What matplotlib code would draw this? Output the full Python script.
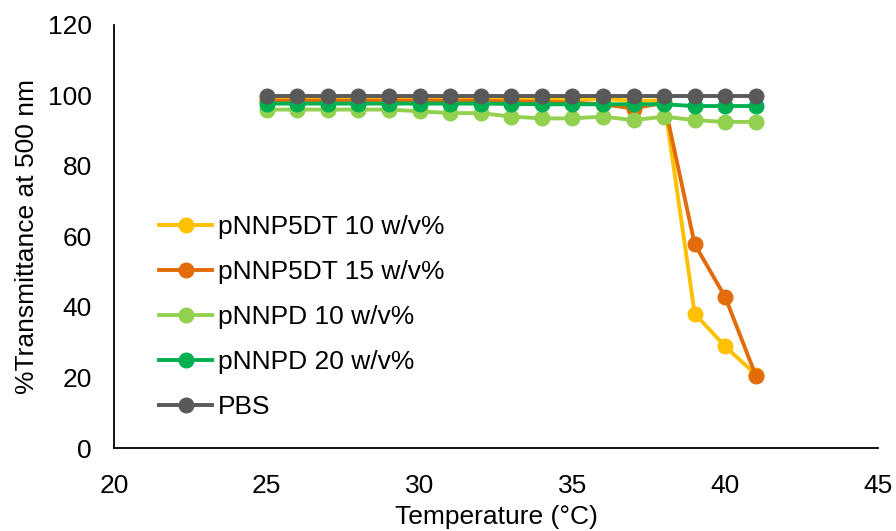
import matplotlib
matplotlib.use("Agg")
import matplotlib.pyplot as plt

plt.rcParams["font.family"] = ["Liberation Sans", "DejaVu Sans"]

# temperatures (°C)
temp = [25, 26, 27, 28, 29, 30, 31, 32, 33, 34, 35, 36, 37, 38, 39, 40, 41]

# %transmittance at 500 nm
pnnp5dt_10 = [99, 99, 99, 99, 99, 99, 99, 99, 99, 99, 99, 99, 98.5, 98.6, 38.1, 28.8, 20.8]
pnnp5dt_15 = [98.5, 98.5, 98.5, 98.5, 98.5, 98.5, 98.5, 98.5, 98.3, 98.2, 98, 97.5, 96.3, 98, 57.8, 42.8, 20.5]
pnnpd_10 = [96, 96, 96, 96, 96, 95.5, 95, 95, 94, 93.5, 93.5, 94, 93, 94, 93, 92.5, 92.5]
pnnpd_20 = [97.7, 97.7, 97.7, 97.7, 97.7, 97.7, 97.7, 97.7, 97.6, 97.5, 97.5, 97.5, 97.5, 97.5, 97, 97, 97]
pbs = [99.8, 99.8, 99.8, 99.8, 99.8, 99.8, 99.8, 99.8, 99.8, 99.8, 99.8, 99.8, 99.8, 99.8, 99.8, 99.8, 99.8]

labels = ["pNNP5DT 10 w/v%", "pNNP5DT 15 w/v%", "pNNPD 10 w/v%", "pNNPD 20 w/v%", "PBS"]
colors = ["#FFC000", "#E36C0A", "#92D050", "#00B050", "#595959"]
series = [pnnp5dt_10, pnnp5dt_15, pnnpd_10, pnnpd_20, pbs]

fig = plt.figure(figsize=(8.96, 5.31), dpi=100)
ax = fig.add_axes([0.1272, 0.1563, 0.8528, 0.7967])

for vals, lab, col in zip(series, labels, colors):
    ax.plot(temp, vals, color=col, lw=2.8, marker="o", markersize=10.5, label=lab)

ax.set_xlim(20, 45)
ax.set_ylim(0, 120)
ax.set_xticks(range(20, 46, 5))
ax.set_yticks(range(0, 121, 20))
ax.tick_params(length=0, labelsize=19, colors="black")
ax.tick_params(axis="x", pad=19)
ax.tick_params(axis="y", pad=16)
for s in ["top", "right"]:
    ax.spines[s].set_visible(False)
for s in ["left", "bottom"]:
    ax.spines[s].set_linewidth(1.3)

ax.set_xlabel("Temperature (°C)", fontsize=19, labelpad=5)
ax.set_ylabel("%Transmittance at 500 nm", fontsize=19, labelpad=6)

ax.legend(loc="upper left", bbox_to_anchor=(0.178, 0.595), bbox_transform=fig.transFigure,
          frameon=False, fontsize=19, handlelength=2.0, handletextpad=0.2,
          labelspacing=0.8, borderpad=0, borderaxespad=0)

fig.savefig("out.png", dpi=100)
